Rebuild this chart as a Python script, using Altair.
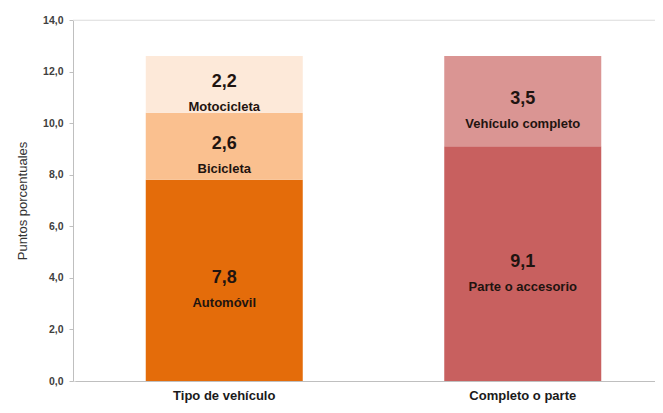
import altair as alt
import pandas as pd

groups = ["Tipo de vehículo", "Tipo de vehículo", "Tipo de vehículo",
          "Completo o parte", "Completo o parte"]
segments = ["Automóvil", "Bicicleta", "Motocicleta",
            "Parte o accesorio", "Vehículo completo"]
values = [7.8, 2.6, 2.2, 9.1, 3.5]
stack_order = [1, 2, 3, 1, 2]
colors = ["#E46C0A", "#FAC08F", "#FDE9D9", "#C8605F", "#DA9593"]
group_order = ["Tipo de vehículo", "Completo o parte"]
y_ticks = [0, 2, 4, 6, 8, 10, 12, 14]

df = pd.DataFrame({"grupo": groups, "segmento": segments, "valor": values,
                   "orden": stack_order})
df["fin"] = df.groupby("grupo")["valor"].cumsum()
df["inicio"] = df["fin"] - df["valor"]
df["medio"] = (df["inicio"] + df["fin"]) / 2
df["etiqueta"] = df["valor"].map(lambda v: f"{v:.1f}".replace(".", ","))

xscale = alt.Scale(domain=group_order, paddingInner=0, paddingOuter=0,
                   range=[2, 599])

x_enc = alt.X("grupo:N", sort=group_order, scale=xscale,
              axis=alt.Axis(title=None, labelAngle=0, labelFont="Liberation Sans",
                            labelFontSize=13, labelFontWeight="bold",
                            labelColor="#1a1a1a", labelPadding=8,
                            domainColor="#bfbfbf", ticks=False))

base = alt.Chart(df)

bars = base.mark_bar(size=157).encode(
    x=x_enc,
    y=alt.Y("inicio:Q", scale=alt.Scale(domain=[0, 14], nice=False),
            axis=alt.Axis(title="Puntos porcentuales", values=y_ticks,
                          labelExpr="replace(format(datum.value, '.1f'), '.', ',')",
                          labelFont="Liberation Sans", labelFontSize=10.5,
                          labelFontWeight="bold", labelColor="#404040",
                          labelPadding=6, tickSize=4, tickColor="#bfbfbf",
                          domainColor="#bfbfbf", grid=False,
                          titleFont="Liberation Sans", titleFontSize=13,
                          titleFontWeight="normal", titleColor="#333333",
                          titlePadding=13)),
    y2="fin:Q",
    color=alt.Color("segmento:N", scale=alt.Scale(domain=segments, range=colors),
                    legend=None),
)

vals = base.mark_text(font="Liberation Sans", fontSize=18, fontWeight="bold",
                      color="#1f1410", baseline="middle", dy=-2).encode(
    x=alt.X("grupo:N", sort=group_order, scale=xscale), y="medio:Q",
    text="etiqueta:N")

labs = base.mark_text(font="Liberation Sans", fontSize=13, fontWeight="bold",
                      color="#1f1410", baseline="middle", dy=23).encode(
    x=alt.X("grupo:N", sort=group_order, scale=xscale), y="medio:Q",
    text="segmento:N")

top = alt.Chart(pd.DataFrame({"y": [14]})).mark_rule(color="#ececec").encode(
    y="y:Q")

chart = alt.layer(top, bars, vals, labs).properties(
    width=582, height=361,
    autosize=alt.AutoSizeParams(type="none"),
    padding={"left": 65, "top": 12, "right": 0, "bottom": 24},
).configure_view(stroke=None).configure(background="white")

chart.save("out.html", embed_options={"renderer": "svg", "actions": False})
